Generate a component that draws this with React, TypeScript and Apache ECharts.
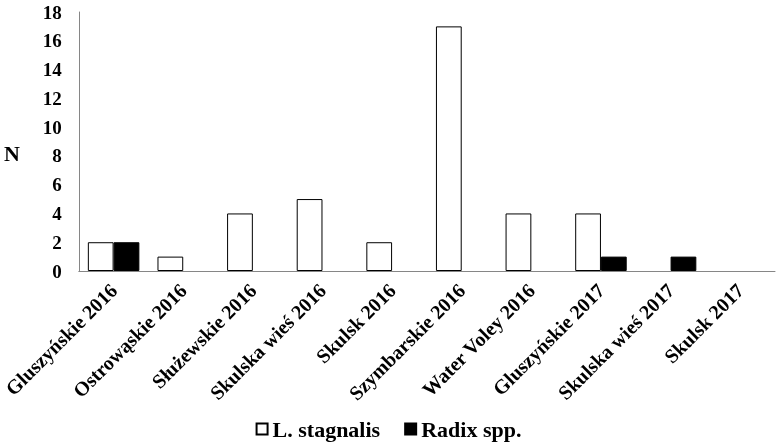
import React, { useEffect, useRef } from "react";
import * as echarts from "echarts";

const categories = [
  "Gluszyńskie 2016",
  "Ostrowąskie 2016",
  "Służewskie 2016",
  "Skulska wieś 2016",
  "Skulsk 2016",
  "Szymbarskie 2016",
  "Water Voley 2016",
  "Gluszyńskie 2017",
  "Skulska wieś 2017",
  "Skulsk 2017",
];
const stagnalis = [2, 1, 4, 5, 2, 17, 4, 4, 0, 0];
const radix = [2, 0, 0, 0, 0, 0, 0, 1, 1, 0];

const FONT = "'Liberation Serif', 'Times New Roman', serif";
const hideZero = (arr: number[]) => arr.map((v) => (v === 0 ? "-" : v));

export default function App() {
  const ref = useRef<HTMLDivElement>(null);
  useEffect(() => {
    const chart = echarts.init(ref.current!, null, { renderer: "svg" });
    chart.setOption({
      animation: false,
      grid: { left: 69, right: 2, top: 12, bottom: 173, containLabel: false },
      legend: {
        top: 413,
        left: "center",
        itemWidth: 11,
        itemHeight: 11,
        itemGap: 24,
        textStyle: { fontFamily: FONT, fontWeight: "bold", fontSize: 22, color: "#000" },
        data: [
          { name: "L. stagnalis", icon: "rect" },
          { name: "Radix spp.", icon: "rect" },
        ],
      },
      graphic: [
        {
          type: "text",
          left: 4,
          top: 142,
          style: { text: "N", font: `bold 22px ${FONT}`, fill: "#000" },
        },
      ],
      xAxis: {
        type: "category",
        data: categories,
        axisLine: { lineStyle: { color: "#868686", width: 1 } },
        axisTick: { show: false },
        axisLabel: {
          interval: 0,
          rotate: 45,
          margin: 16,
          fontFamily: FONT,
          fontWeight: "bold",
          fontSize: 20,
          color: "#000",
        },
      },
      yAxis: {
        type: "value",
        min: 0,
        max: 18,
        interval: 2,
        axisLine: { show: true, lineStyle: { color: "#868686", width: 1 } },
        axisTick: { show: false },
        splitLine: { show: false },
        axisLabel: {
          margin: 17,
          fontFamily: FONT,
          fontWeight: "bold",
          fontSize: 19,
          color: "#000",
        },
      },
      series: [
        {
          name: "L. stagnalis",
          type: "bar",
          data: hideZero(stagnalis),
          barGap: "0%",
          barCategoryGap: "26%",
          itemStyle: { color: "#fff", borderColor: "#000", borderWidth: 1 },
        },
        {
          name: "Radix spp.",
          type: "bar",
          data: hideZero(radix),
          itemStyle: { color: "#000", borderColor: "#000", borderWidth: 1 },
        },
      ],
    });
    return () => chart.dispose();
  }, []);
  return (
    <div
      ref={ref}
      style={{ width: 777, height: 444, position: "fixed", left: 0, top: 0 }}
    />
  );
}
